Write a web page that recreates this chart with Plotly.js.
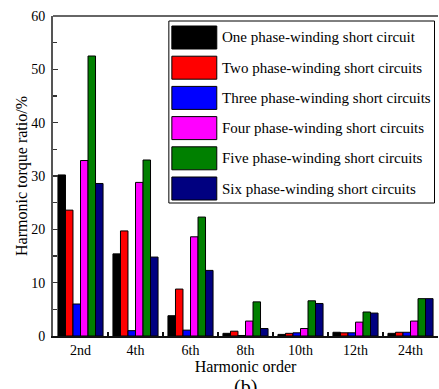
<!DOCTYPE html>
<html>
<head>
<meta charset="utf-8">
<script src="https://cdn.plot.ly/plotly-3.0.1.min.js"></script>
<style>
  html, body { margin: 0; padding: 0; background: #fff; overflow: hidden; }
  #chart { width: 439px; height: 389px; }
</style>
</head>
<body>
<div id="chart"></div>
<script>
// Harmonic orders on the category axis
const orders = ['2nd', '4th', '6th', '8th', '10th', '12th', '24th'];

// Harmonic torque ratio (%) for each fault case
const onePhase   = [30.2, 15.4, 3.8, 0.5, 0.3, 0.7, 0.5];
const twoPhase   = [23.6, 19.7, 8.8, 0.9, 0.5, 0.6, 0.7];
const threePhase = [6.0, 1.0, 1.1, 0.1, 0.6, 0.6, 0.7];
const fourPhase  = [32.9, 28.8, 18.6, 2.8, 1.4, 2.6, 2.8];
const fivePhase  = [52.5, 33.0, 22.3, 6.4, 6.6, 4.5, 7.0];
const sixPhase   = [28.6, 14.8, 12.3, 1.4, 6.1, 4.3, 7.0];

const seriesNames = [
  'One phase-winding short circuit',
  'Two phase-winding short circuits',
  'Three phase-winding short circuits',
  'Four phase-winding short circuits',
  'Five phase-winding short circuits',
  'Six phase-winding short circuits'
];
const seriesValues = [onePhase, twoPhase, threePhase, fourPhase, fivePhase, sixPhase];
const seriesColors = ['#000000', '#ff0000', '#0000ff', '#ff00ff', '#008000', '#000080'];

const serif = '"Liberation Serif", "Times New Roman", serif';

const traces = seriesValues.map((vals, i) => ({
  type: 'bar',
  x: orders,
  y: vals,
  name: seriesNames[i],
  marker: { color: seriesColors[i], line: { color: '#000', width: 1 } },
  showlegend: false,
  hoverinfo: 'x+y+name'
}));

// Plot area in pixels, used to place the boxed key
const W = 439, H = 389;
const M = { l: 53, r: 0.5, t: 16, b: 53 };
const pw = W - M.l - M.r, ph = H - M.t - M.b;
const px = x => (x - M.l) / pw;
const py = y => (H - M.b - y) / ph;

const shapes = [
  // top frame line
  { type: 'line', xref: 'paper', yref: 'paper', x0: 0, x1: 1, y0: 1, y1: 1,
    line: { color: '#666', width: 2 } },
  // key frame
  { type: 'rect', xref: 'paper', yref: 'paper', x0: px(169), x1: px(435), y0: py(203), y1: py(21),
    line: { color: '#000', width: 1 }, fillcolor: '#fff', layer: 'above' }
];
const annotations = [];
const rowStep = 30.2;
seriesNames.forEach((name, i) => {
  const top = 26 + i * rowStep;
  shapes.push({
    type: 'rect', xref: 'paper', yref: 'paper',
    x0: px(172), x1: px(217), y0: py(top + 23), y1: py(top),
    fillcolor: seriesColors[i], line: { color: '#000', width: 1 }, layer: 'above'
  });
  annotations.push({
    xref: 'paper', yref: 'paper', x: px(220), y: py(top + 11.5),
    xanchor: 'left', yanchor: 'middle', showarrow: false,
    text: name, font: { family: serif, size: 15, color: '#000' }
  });
});
annotations.push({
  xref: 'paper', yref: 'paper', x: 0.5, y: py(387), xanchor: 'center', yanchor: 'middle',
  showarrow: false, text: '(b)', font: { family: serif, size: 20, color: '#000' }
});

const layout = {
  width: W, height: H,
  margin: M,
  paper_bgcolor: '#fff', plot_bgcolor: '#fff',
  font: { family: serif, size: 14, color: '#000' },
  barmode: 'group',
  bargap: 0.18,
  bargroupgap: 0,
  xaxis: {
    type: 'category',
    range: [-0.5, 6.5],
    showline: true, linecolor: '#111', linewidth: 2,
    ticks: 'inside', tickson: 'boundaries', ticklen: 4, tickcolor: '#111', tickwidth: 1.5,
    showgrid: false, zeroline: false,
    ticklabelstandoff: 0,
    tickfont: { family: serif, size: 14 },
    title: { text: 'Harmonic order', font: { family: serif, size: 16 }, standoff: 0 },
    automargin: false, fixedrange: true
  },
  yaxis: {
    range: [0, 60],
    dtick: 10,
    showline: true, linecolor: '#555', linewidth: 2,
    ticks: 'inside', ticklen: 5, tickcolor: '#333', tickwidth: 1.5,
    minor: { dtick: 5, ticks: 'inside', ticklen: 4, tickcolor: '#333', tickwidth: 1.5 },
    showgrid: false, zeroline: false,
    ticklabelstandoff: 3,
    tickfont: { family: serif, size: 14 },
    title: { text: 'Harmonic torque ratio/%', font: { family: serif, size: 16 }, standoff: 0 },
    automargin: false, fixedrange: true
  },
  shapes: shapes,
  annotations: annotations
};

Plotly.newPlot('chart', traces, layout, { displayModeBar: false, staticPlot: true });
</script>
</body>
</html>
